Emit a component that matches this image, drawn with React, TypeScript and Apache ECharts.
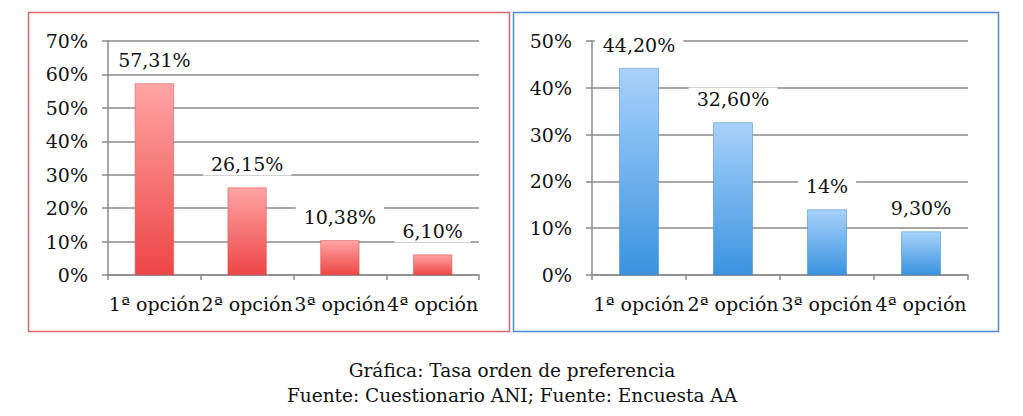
import React, { useEffect, useRef } from "react";
import * as echarts from "echarts";

const categories = ["1ª opción", "2ª opción", "3ª opción", "4ª opción"];
const leftValues = [57.31, 26.15, 10.38, 6.1];
const leftLabels = ["57,31%", "26,15%", "10,38%", "6,10%"];
const rightValues = [44.2, 32.6, 14, 9.3];
const rightLabels = ["44,20%", "32,60%", "14%", "9,30%"];
const captionLines = ["Gráfica: Tasa orden de preferencia", "Fuente: Cuestionario ANI; Fuente: Encuesta AA"];

const FONT = "DejaVu Serif";
const FS = 19;

function grad(top: string, bottom: string) {
  return new echarts.graphic.LinearGradient(0, 0, 0, 1, [
    { offset: 0, color: top },
    { offset: 1, color: bottom },
  ]);
}

export default function App() {
  const ref = useRef<HTMLDivElement>(null);
  useEffect(() => {
    const chart = echarts.init(ref.current!, null, { renderer: "svg" });
    const axisCommon = (max: number) => ({
      type: "value" as const,
      min: 0,
      max,
      interval: 10,
      axisLine: { show: true, lineStyle: { color: "#8a8a8a", width: 1.5 } },
      axisTick: { show: true, length: 6, lineStyle: { color: "#8a8a8a", width: 1.5 } },
      splitLine: { show: true, lineStyle: { color: "#8a8a8a", width: 1.5 } },
      axisLabel: { formatter: "{value}%", color: "#111", fontFamily: FONT, fontSize: FS, margin: 20 },
    });
    const xCommon = (gi: number) => ({
      type: "category" as const,
      gridIndex: gi,
      data: categories,
      axisLine: { show: true, lineStyle: { color: "#8a8a8a", width: 1.5 } },
      axisTick: { show: true, length: 5, alignWithLabel: false, lineStyle: { color: "#8a8a8a", width: 1.5 } },
      axisLabel: { color: "#111", fontFamily: FONT, fontSize: FS, margin: 19, interval: 0 },
    });
    const labelFor = (labels: string[]) => ({
      show: true,
      position: "top" as const,
      distance: 12,
      formatter: (p: any) => labels[p.dataIndex],
      backgroundColor: "#fff",
      padding: [2, 8],
      color: "#111",
      fontFamily: FONT,
      fontSize: FS,
    });
    chart.setOption({
      animation: false,
      grid: [
        { left: 108, right: 544, top: 41, bottom: 141 },
        { left: 592, right: 55, top: 41, bottom: 141 },
      ],
      xAxis: [xCommon(0), xCommon(1)],
      yAxis: [
        { ...axisCommon(70), gridIndex: 0 },
        { ...axisCommon(50), gridIndex: 1 },
      ],
      series: [
        {
          type: "bar",
          xAxisIndex: 0,
          yAxisIndex: 0,
          data: leftValues,
          barWidth: "42%",
          itemStyle: { color: grad("#ffa4a4", "#ee4646"), borderColor: "#d24c4c", borderWidth: 0.5 },
          label: labelFor(leftLabels),
        },
        {
          type: "bar",
          xAxisIndex: 1,
          yAxisIndex: 1,
          data: rightValues,
          barWidth: "42%",
          itemStyle: { color: grad("#a8d2fb", "#3a93df"), borderColor: "#3b84c8", borderWidth: 0.5 },
          label: labelFor(rightLabels),
        },
      ],
      graphic: [
        { type: "rect", shape: { x: 28.5, y: 12.5, width: 481, height: 319 }, style: { fill: "none", stroke: "#d9676b", lineWidth: 1.5 }, z: -1 },
        { type: "rect", shape: { x: 513.5, y: 12.5, width: 485, height: 319 }, style: { fill: "none", stroke: "#4a8cd2", lineWidth: 1.5 }, z: -1 },
        { type: "text", x: 512, y: 370, style: { text: captionLines[0], fontFamily: FONT, fontSize: 18.5, fill: "#111", align: "center", verticalAlign: "middle" } },
        { type: "text", x: 512, y: 395, style: { text: captionLines[1], fontFamily: FONT, fontSize: 18.5, fill: "#111", align: "center", verticalAlign: "middle" } },
      ],
    });
    return () => chart.dispose();
  }, []);
  return <div ref={ref} style={{ position: "absolute", left: 0, top: 0, width: 1023, height: 416, background: "#fff" }} />;
}
